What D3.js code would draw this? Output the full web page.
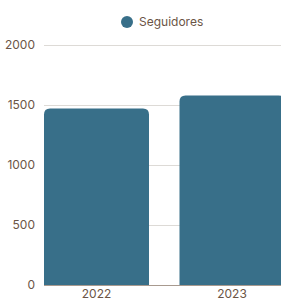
<!DOCTYPE html>
<html><head><meta charset="utf-8">
<script src="https://cdn.jsdelivr.net/npm/d3@7"></script>
<style>body{margin:0;background:#fff;overflow:hidden}svg{display:block}</style>
</head><body>
<svg id="c" width="281" height="300"></svg>
<script>
const categories = ["2022", "2023"];
const seriesName = "Seguidores";
const values = [1470, 1580];
const yTicks = [0, 500, 1000, 1500, 2000];

const svg = d3.select("#c");
const barColor = "#386f89";
const textColor = "#6b5546";
const font = "Inter, 'Noto Sans', sans-serif";

const y = d3.scaleLinear().domain([0, 2000]).range([285, 45]);
const x = d3.scaleBand().domain(categories).range([44, 284.5]).paddingInner(0.225).paddingOuter(0);

const yAxis = d3.axisLeft(y).tickValues(yTicks).tickFormat(d3.format("d")).tickSize(0).tickPadding(9);
const gy = svg.append("g").attr("transform", "translate(44,0)").call(yAxis);
gy.select(".domain").remove();
gy.selectAll("text").attr("fill", textColor).style("font-family", font).style("font-size", "12px");
svg.append("g").selectAll("line").data(yTicks).join("line")
  .attr("x1", 44).attr("x2", 281)
  .attr("y1", d => y(d) + 0.5).attr("y2", d => y(d) + 0.5)
  .attr("stroke", d => d === 0 ? "#a89a8f" : "#dddad6").attr("stroke-width", 1);

const r = 6;
svg.append("g").selectAll("path").data(values).join("path")
  .attr("fill", barColor)
  .attr("d", (d, i) => {
    const x0 = x(categories[i]), w = x.bandwidth(), y0 = y(d), yb = y(0);
    return `M${x0},${yb}V${y0 + r}Q${x0},${y0} ${x0 + r},${y0}H${x0 + w - r}Q${x0 + w},${y0} ${x0 + w},${y0 + r}V${yb}Z`;
  });

const xAxis = d3.axisBottom(x).tickSize(0).tickPadding(4);
const gx = svg.append("g").attr("transform", "translate(0,285)").call(xAxis);
gx.select(".domain").remove();
gx.selectAll("text").attr("fill", textColor).style("font-family", font).style("font-size", "12px");

const lg = svg.append("g");
lg.append("circle").attr("cx", 127).attr("cy", 22).attr("r", 6).attr("fill", barColor);
lg.append("text").attr("x", 139).attr("y", 22).attr("dy", "0.35em")
  .attr("fill", textColor).style("font-family", font).style("font-size", "12px").text(seriesName);
</script>
</body></html>
